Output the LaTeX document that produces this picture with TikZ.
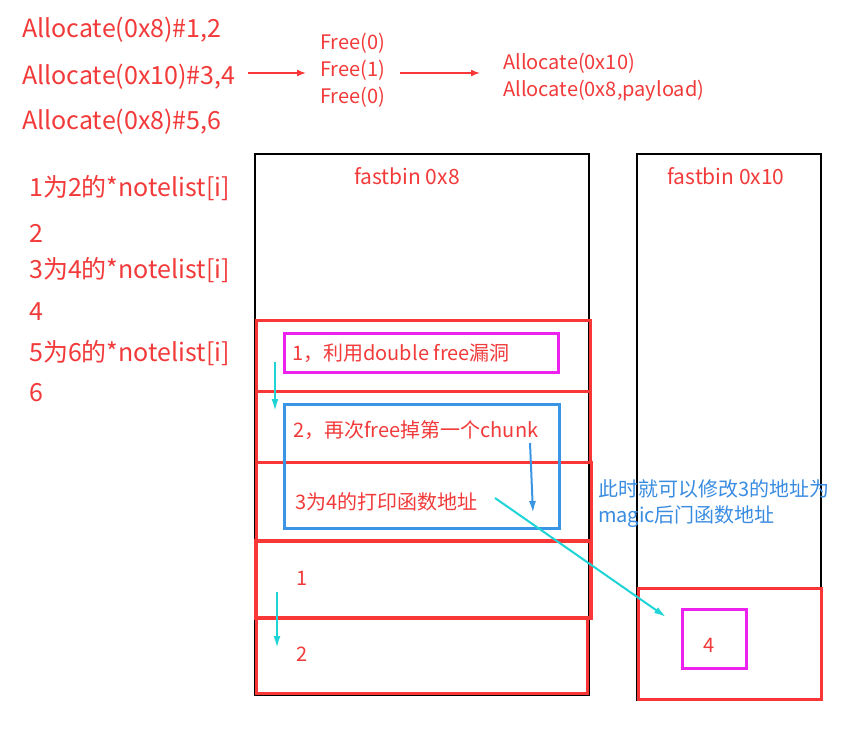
\documentclass[tikz,border=0pt]{standalone}
\usepackage{fontspec}
\newfontfamily\cjk{Noto Sans CJK SC}
\usetikzlibrary{arrows.meta}
\definecolor{cred}{RGB}{250,55,55}
\definecolor{tred}{RGB}{242,58,58}
\definecolor{cmag}{RGB}{238,34,238}
\definecolor{cblue}{RGB}{58,150,228}
\definecolor{tblue}{RGB}{58,140,225}
\definecolor{ccyan}{RGB}{30,212,215}
\tikzset{
  txt/.style={font=\cjk\fontsize{#1}{#1}\selectfont, text=tred, inner sep=0pt, anchor=west},
  btxt/.style={font=\cjk\fontsize{#1}{#1}\selectfont, text=tblue, inner sep=0pt, anchor=west},
  binbox/.style={draw=black, line width=2pt, inner sep=0pt, outer sep=0pt, anchor=north west},
  chunk/.style={draw=cred, line width=3pt, inner sep=0pt, outer sep=0pt, anchor=north west},
  magbox/.style={draw=cmag, line width=3pt, inner sep=0pt, outer sep=0pt, anchor=north west},
  bluebox/.style={draw=cblue, line width=3pt, inner sep=0pt, outer sep=0pt, anchor=north west},
  redarrow/.style={draw=cred, line width=1.6pt, -{Latex[length=9pt,width=7pt]}},
  cyanarrow/.style={draw=ccyan, line width=2pt, -{Latex[length=12pt,width=7pt]}},
  bluearrow/.style={draw=cblue, line width=2pt, -{Latex[length=12pt,width=7pt]}},
}
\begin{document}
\begin{tikzpicture}[x=1pt,y=-1pt]
\useasboundingbox[fill=white] (0,0) rectangle (861,738);
% top texts
\node[txt=25] (a1) at (22,30) {Allocate(0x8)\#1,2};
\node[txt=25] (a2) at (22,77) {Allocate(0x10)\#3,4};
\node[txt=25] (a3) at (22,122) {Allocate(0x8)\#5,6};
\node[txt=20] (f1) at (320,43) {Free(0)};
\node[txt=20] (f2) at (320,70) {Free(1)};
\node[txt=20] (f3) at (320,97) {Free(0)};
\node[txt=20] (p1) at (503,63) {Allocate(0x10)};
\node[txt=20] (p2) at (503,91) {Allocate(0x8,payload)};
\coordinate (r1s) at (248,73); \coordinate (r1e) at (306,73);
\coordinate (r2s) at (400,73); \coordinate (r2e) at (480,73);
\draw[redarrow] (r1s) -- (r1e);
\draw[redarrow] (r2s) -- (r2e);
% left list
\node[txt=25] (n1) at (29,188) {1为2的*notelist[i]};
\node[txt=25] (n2) at (29,233) {2};
\node[txt=25] (n3) at (29,270) {3为4的*notelist[i]};
\node[txt=25] (n4) at (29,312) {4};
\node[txt=25] (n5) at (29,353) {5为6的*notelist[i]};
\node[txt=25] (n6) at (29,393) {6};
% bins
\node[binbox, minimum width=334pt, minimum height=541pt] (bin8) at (255,154) {};
\node[binbox, minimum width=184pt, minimum height=546pt] (bin10) at (637,154) {};
\node[txt=21, anchor=center] (t8) at (407,176) {fastbin 0x8};
\node[txt=21, anchor=center] (t10) at (726,176) {fastbin 0x10};
% chunks
\node[chunk, minimum width=334pt, minimum height=71pt] (c1) at (256,320) {};
\node[chunk, minimum width=334pt, minimum height=71pt] (c2) at (256,391) {};
\node[chunk, minimum width=335pt, minimum height=79pt] (c3) at (256,462) {};
\node[chunk, line width=4.5pt, minimum width=335pt, minimum height=77pt] (c4) at (256,541) {};
\node[chunk, minimum width=331pt, minimum height=75pt] (c5) at (256,618) {};
\node[chunk, minimum width=183pt, minimum height=111pt] (c6) at (638,588) {};
\node[magbox, minimum width=274pt, minimum height=39pt] (m1) at (284,333) {};
\node[bluebox, minimum width=275pt, minimum height=124pt] (b1) at (284,404) {};
\node[magbox, minimum width=64pt, minimum height=59pt] (m2) at (682,609) {};
% chunk texts
\node[txt=20] (s1) at (292,353) {1，利用double free漏洞};
\node[txt=20] (s2) at (293,430) {2，再次free掉第一个chunk};
\node[txt=20] (s3) at (295,502) {3为4的打印函数地址};
\node[txt=20] (k1) at (296,578) {1};
\node[txt=20] (k2) at (296,654) {2};
\node[txt=20, anchor=center] (k4) at (709,645) {4};
\node[btxt=20] (bt1) at (598,489) {此时就可以修改3的地址为};
\node[btxt=20] (bt2) at (598,517) {magic后门函数地址};
% arrows
\coordinate (ca1s) at (275,362); \coordinate (ca1e) at (275,411);
\coordinate (ca2s) at (277,592); \coordinate (ca2e) at (277,648);
\coordinate (ca3s) at (495,498); \coordinate (ca3e) at (666,617);
\coordinate (ba1s) at (530,443); \coordinate (ba1e) at (533,513);
\draw[cyanarrow] (ca1s) -- (ca1e);
\draw[cyanarrow] (ca2s) -- (ca2e);
\draw[cyanarrow] (ca3s) -- (ca3e);
\draw[bluearrow] (ba1s) -- (ba1e);
\end{tikzpicture}
\end{document}
